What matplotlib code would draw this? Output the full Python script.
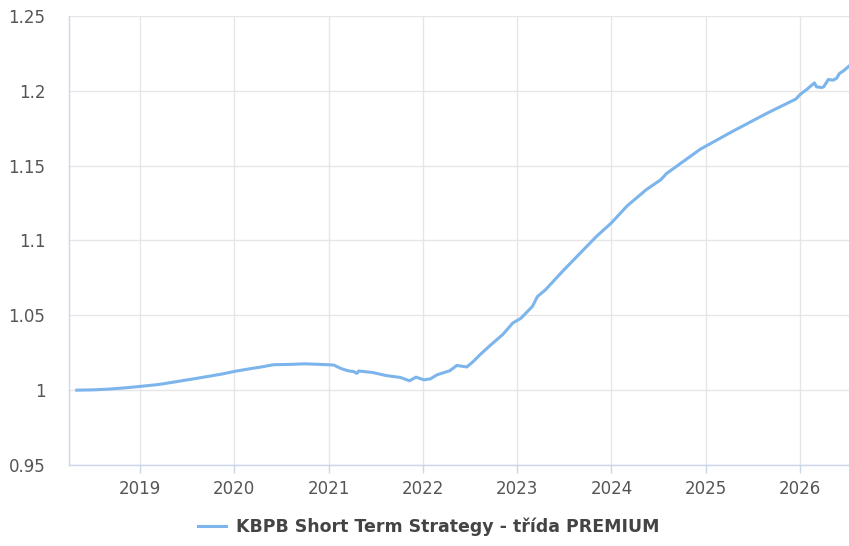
import matplotlib
matplotlib.use("Agg")
import matplotlib.pyplot as plt
import matplotlib.dates as mdates
import pandas as pd

# NAV history of the fund (date, value per unit)
dates = [
    "2018-05-01", "2018-07-01", "2018-09-01", "2018-11-01", "2019-01-01",
    "2019-03-15", "2019-05-15", "2019-07-15", "2019-09-15", "2019-11-15",
    "2020-01-01", "2020-03-01", "2020-04-15", "2020-06-01", "2020-08-01",
    "2020-10-01", "2020-12-01", "2021-01-20", "2021-02-17", "2021-03-15",
    "2021-04-08", "2021-04-20", "2021-04-27", "2021-06-20", "2021-08-10",
    "2021-10-05", "2021-11-10", "2021-12-05", "2022-01-05", "2022-01-30",
    "2022-02-25", "2022-04-15", "2022-05-12", "2022-06-20", "2022-07-15",
    "2022-08-10", "2022-09-15", "2022-11-06", "2022-12-15", "2023-01-15",
    "2023-03-01", "2023-03-20", "2023-04-20", "2023-06-25", "2023-09-01",
    "2023-11-05", "2024-01-01", "2024-03-01", "2024-05-15", "2024-07-10",
    "2024-08-01", "2024-12-10", "2025-04-15", "2025-08-25", "2025-12-15",
    "2026-01-01", "2026-01-27", "2026-02-25", "2026-03-05", "2026-03-25",
    "2026-04-02", "2026-04-20", "2026-05-08", "2026-05-22", "2026-06-02",
    "2026-06-15", "2026-07-09",
]
values = [
    1.0000, 1.0002, 1.0007, 1.0015, 1.0025,
    1.0038, 1.0055, 1.0072, 1.0090, 1.0108,
    1.0125, 1.0143, 1.0155, 1.0170, 1.0172,
    1.0176, 1.0172, 1.0168, 1.0145, 1.0130,
    1.0124, 1.0112, 1.0128, 1.0118, 1.0098,
    1.0085, 1.0063, 1.0087, 1.0069, 1.0076,
    1.0103, 1.0130, 1.0165, 1.0155, 1.0192,
    1.0237, 1.0294, 1.0372, 1.0449, 1.0480,
    1.0560, 1.0625, 1.0670, 1.0793, 1.0914,
    1.1029, 1.1118, 1.1230, 1.1340, 1.1406,
    1.1447, 1.1610, 1.1730, 1.1850, 1.1945,
    1.1976, 1.2010, 1.2053, 1.2027, 1.2022,
    1.2027, 1.2076, 1.2071, 1.2084, 1.2116,
    1.2130, 1.2165,
]
series_name = "KBPB Short Term Strategy - třída PREMIUM"
y_ticks = [0.95, 1.0, 1.05, 1.1, 1.15, 1.2, 1.25]
y_tick_labels = ["0.95", "1", "1.05", "1.1", "1.15", "1.2", "1.25"]

LINE_COLOR = "#7cb5ec"
GRID_COLOR = "#e6e6e6"
AXIS_COLOR = "#ccd6eb"
TEXT_COLOR = "#555555"

df = pd.DataFrame({"date": pd.to_datetime(dates), "value": values})

fig = plt.figure(figsize=(8.49, 5.46), dpi=100)
ax = fig.add_axes([69 / 849, 81 / 546, 780 / 849, 449 / 546])

ax.plot(df["date"], df["value"], color=LINE_COLOR, linewidth=2.2,
        solid_joinstyle="round", label=series_name)

ax.set_xlim(pd.Timestamp("2018-04-01"), pd.Timestamp("2026-07-09"))
ax.set_ylim(0.95, 1.25)
ax.set_yticks(y_ticks)
ax.set_yticklabels(y_tick_labels)
ax.xaxis.set_major_locator(mdates.YearLocator())
ax.xaxis.set_major_formatter(mdates.DateFormatter("%Y"))

ax.grid(True, color=GRID_COLOR, linewidth=1)
ax.set_axisbelow(True)

for side in ("top", "right"):
    ax.spines[side].set_visible(False)
for side in ("left", "bottom"):
    ax.spines[side].set_color(AXIS_COLOR)
    ax.spines[side].set_linewidth(1)

ax.tick_params(axis="y", length=0, pad=17, labelsize=12, labelcolor=TEXT_COLOR)
ax.tick_params(axis="x", length=6, width=1, color=AXIS_COLOR, pad=5,
               labelsize=12, labelcolor=TEXT_COLOR)

leg = fig.legend(loc="lower center", bbox_to_anchor=(0.505, -0.01), frameon=False,
                 handlelength=1.6, handletextpad=0.6,
                 prop={"size": 12.5, "weight": "bold"})
for text in leg.get_texts():
    text.set_color("#444444")

fig.savefig("out.png", dpi=100)
